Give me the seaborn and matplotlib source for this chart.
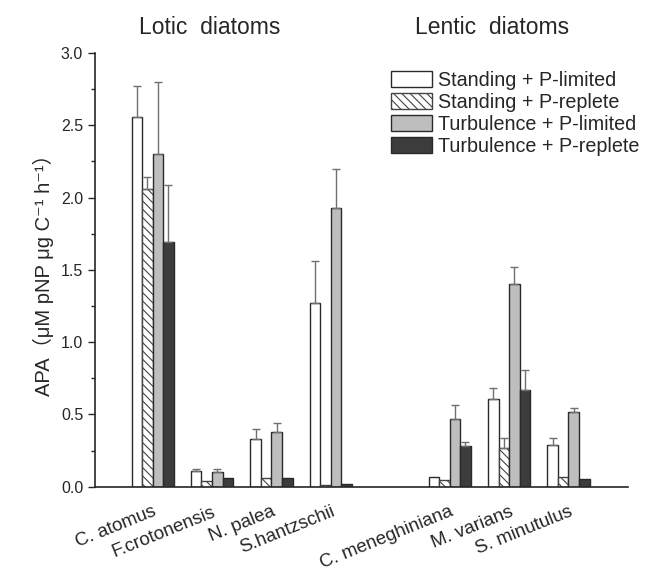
import matplotlib
matplotlib.use("Agg")
import matplotlib.pyplot as plt
import seaborn as sns
import pandas as pd
import numpy as np
from matplotlib.ticker import MultipleLocator

categories = ["C. atomus", "F.crotonensis", "N. palea", "S.hantzschii", " ",
              "C. meneghiniana", "M. varians", "S. minutulus"]
treatments = ["Standing + P-limited", "Standing + P-replete",
              "Turbulence + P-limited", "Turbulence + P-replete"]

standing_plim = [2.56, 0.11, 0.33, 1.27, np.nan, 0.07, 0.61, 0.29]
standing_prep = [2.06, 0.04, 0.06, 0.01, np.nan, 0.045, 0.27, 0.07]
turb_plim     = [2.30, 0.10, 0.38, 1.93, np.nan, 0.47, 1.40, 0.52]
turb_prep     = [1.69, 0.06, 0.06, 0.02, np.nan, 0.28, 0.67, 0.05]

err_standing_plim = [0.21, 0.015, 0.07, 0.29, np.nan, 0.0, 0.07, 0.045]
err_standing_prep = [0.08, 0.0, 0.0, 0.0, np.nan, 0.0, 0.07, 0.0]
err_turb_plim     = [0.50, 0.025, 0.06, 0.27, np.nan, 0.095, 0.12, 0.025]
err_turb_prep     = [0.40, 0.0, 0.0, 0.0, np.nan, 0.03, 0.14, 0.0]

values = [standing_plim, standing_prep, turb_plim, turb_prep]
errors = [err_standing_plim, err_standing_prep, err_turb_plim, err_turb_prep]

rows = []
for t, vals, errs in zip(treatments, values, errors):
    for c, v, e in zip(categories, vals, errs):
        if not np.isnan(v):
            rows.append({"species": c, "treatment": t, "APA": v, "err": e})
df = pd.DataFrame(rows)

sns.set_style("ticks")
plt.rcParams['font.family'] = ['Liberation Sans', 'Noto Sans CJK SC', 'DejaVu Sans']
plt.rcParams['hatch.linewidth'] = 0.8

fig = plt.figure(figsize=(6.46, 5.76), dpi=100)
ax = fig.add_axes([0.147, 0.155, 0.825, 0.753])

palette = ["#ffffff", "#ffffff", "#bebebe", "#3c3c3c"]
sns.barplot(data=df, x="species", y="APA", hue="treatment", order=categories,
            hue_order=treatments, palette=palette, width=0.71, gap=0,
            errorbar=None, edgecolor="#2a2a2a", linewidth=1.0, ax=ax,
            legend=False)

bar_containers = list(ax.containers)
hatches = [None, "\\\\\\\\", None, None]
for i, cont in enumerate(bar_containers):
    for bar in cont:
        if hatches[i]:
            bar.set_hatch(hatches[i])
            bar.set_edgecolor("#444444")
        cx = bar.get_x() + bar.get_width() / 2
        k = int(round(cx))
        e = errors[i][k]
        h = bar.get_height()
        if e and not np.isnan(e) and e > 0:
            ax.errorbar(cx, h, yerr=[[0], [e]], fmt="none", ecolor="#707070",
                        elinewidth=1.0, capsize=3, capthick=1.0, zorder=1)

ax.set_ylim(0, 3.0)
ax.set_xlim(-0.97, 8.0)
ax.yaxis.set_major_locator(MultipleLocator(0.5))
ax.yaxis.set_minor_locator(MultipleLocator(0.25))
ax.tick_params(axis="y", which="major", length=5, width=1, labelsize=11.5, direction="out")
ax.tick_params(axis="y", which="minor", length=3, width=1, direction="out")
ax.tick_params(axis="x", length=0, labelsize=13.5, pad=12)
for lab in ax.get_xticklabels():
    lab.set_rotation(22)
    lab.set_ha("right")
    lab.set_rotation_mode("anchor")
ax.set_xlabel("")
ax.set_ylabel("APA（μM pNP μg C⁻¹ h⁻¹）", fontsize=14.5, labelpad=5)
for s in ["top", "right"]:
    ax.spines[s].set_visible(False)
ax.spines["left"].set_linewidth(1.2)
ax.spines["bottom"].set_linewidth(1.2)

fig.text(210 / 646, 1 - 28 / 576, "Lotic  diatoms", ha="center", va="center",
         fontsize=16.5)
fig.text(492 / 646, 1 - 28 / 576, "Lentic  diatoms", ha="center", va="center",
         fontsize=16.5)

handles = [cont[0] for cont in bar_containers]
leg = fig.legend(handles, treatments, loc="upper left",
                 bbox_to_anchor=(391 / 646, 1 - 71 / 576), frameon=False,
                 fontsize=14.2, handlelength=2.1, handleheight=0.82,
                 labelspacing=0.15, handletextpad=0.3, borderaxespad=0,
                 borderpad=0)

fig.savefig("out.png", dpi=100)
